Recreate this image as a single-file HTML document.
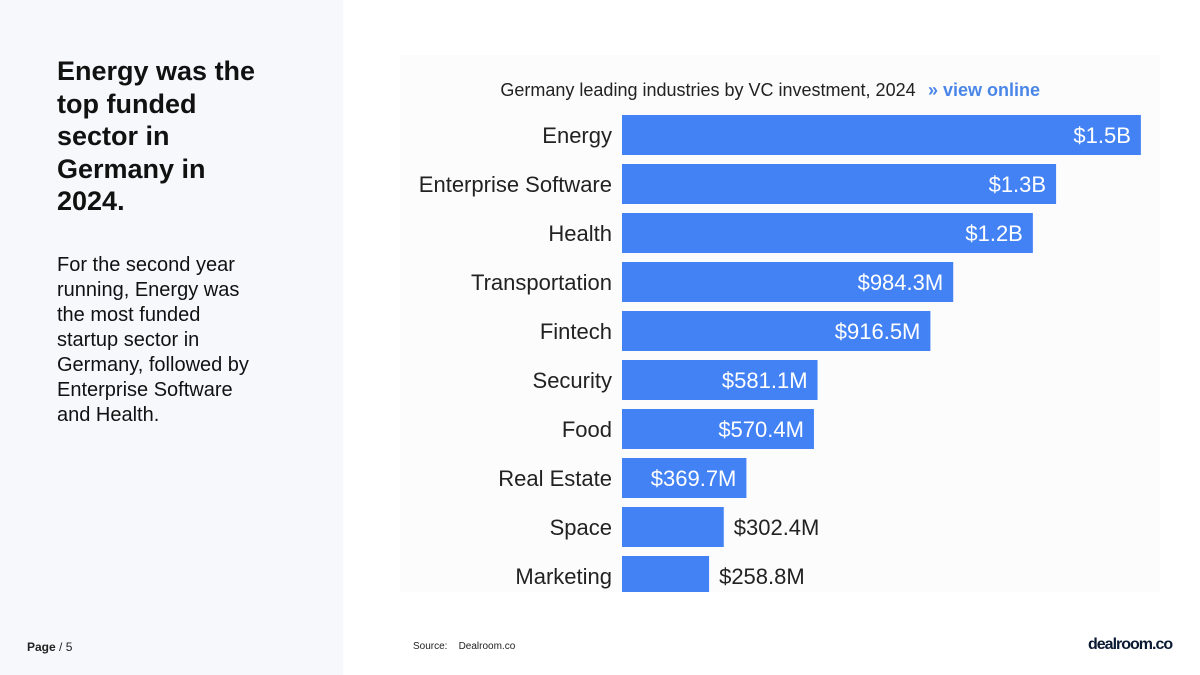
<!DOCTYPE html>
<html><head><meta charset="utf-8"><style>
body{margin:0;width:1200px;height:675px;overflow:hidden;background:#fff;font-family:"Liberation Sans",sans-serif;position:relative}
#left{position:absolute;left:0;top:0;width:343px;height:675px;background:#f6f8fc}
#h{position:absolute;left:57px;top:55px;width:205px;font-weight:bold;font-size:27px;line-height:32.5px;color:#111}
#p{position:absolute;left:57px;top:253px;width:205px;font-size:20px;line-height:25px;color:#111}
#chartbg{position:absolute;left:400px;top:55px;width:760px;height:537px;background:#fcfcfd}
#foot1{position:absolute;left:27px;top:640px;font-size:12px;color:#222}
#foot2{position:absolute;left:413px;top:641px;font-size:10px;color:#222}
#logo{position:absolute;left:1088px;top:636px;font-size:16px;font-weight:bold;color:#0b1a33;letter-spacing:-1px}
svg{position:absolute;left:0;top:0}
</style></head><body>
<div id="left"></div>
<div id="h">Energy was the top funded sector in Germany in 2024.</div>
<div id="p">For the second year running, Energy was the most funded startup sector in Germany, followed by Enterprise Software and Health.</div>
<div id="chartbg"></div>
<svg id="chart" width="1200" height="675">
<defs><clipPath id="cp"><rect x="400" y="55" width="760" height="537"/></clipPath></defs>
<text x="708" y="96" font-size="18" text-anchor="middle" fill="#222">Germany leading industries by VC investment, 2024</text>
<text x="928" y="96" font-size="18" fill="#4a86e8" font-weight="bold">» view online</text>
<g id="bars" clip-path="url(#cp)"></g>
</svg>
<div id="foot1"><b>Page</b> / 5</div>
<div id="foot2">Source:&nbsp;&nbsp;&nbsp;&nbsp;Dealroom.co</div>
<div id="logo">dealroom.co</div>
<script>
const categories=["Energy","Enterprise Software","Health","Transportation","Fintech","Security","Food","Real Estate","Space","Marketing"];
const values=[1542,1290,1221,984.3,916.5,581.1,570.4,369.7,302.4,258.8];
const valueLabels=["$1.5B","$1.3B","$1.2B","$984.3M","$916.5M","$581.1M","$570.4M","$369.7M","$302.4M","$258.8M"];
const NS="http://www.w3.org/2000/svg";
const g=document.getElementById('bars');
const x0=622,scale=0.3365;
const xs=v=>v*scale;
const ys=i=>115+i*49;
categories.forEach((c,i)=>{
  const w=xs(values[i]),y=ys(i);
  const r=document.createElementNS(NS,'rect');
  r.setAttribute('x',x0);r.setAttribute('y',y);r.setAttribute('width',w);r.setAttribute('height',40);r.setAttribute('fill','#4282f5');
  
  
  g.appendChild(r);
  const t=document.createElementNS(NS,'text');
  t.setAttribute('x',612);t.setAttribute('y',y+28);t.setAttribute('text-anchor','end');t.setAttribute('font-size','22');t.setAttribute('fill','#222');
  t.textContent=c;
  
  
  g.appendChild(t);
  const v=document.createElementNS(NS,'text');
  const inside=w>115;
  v.setAttribute('x',inside?x0+w-10:x0+w+10);v.setAttribute('y',y+28);v.setAttribute('text-anchor',inside?'end':'start');
  v.setAttribute('font-size','22');v.setAttribute('fill',inside?'#fff':'#222');
  v.textContent=valueLabels[i];
  
  
  g.appendChild(v);
});
</script>
</body></html>
